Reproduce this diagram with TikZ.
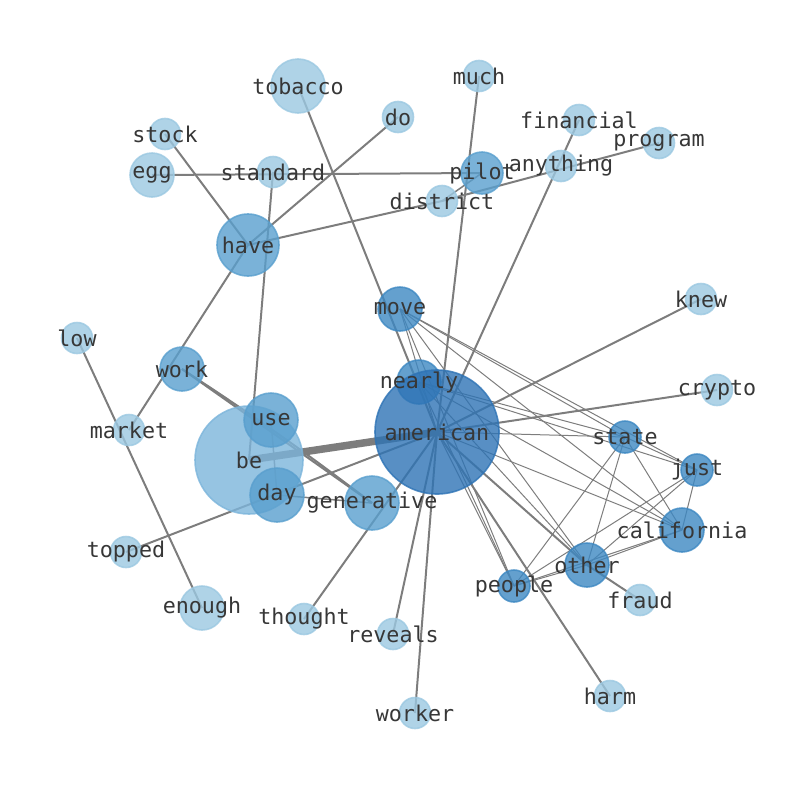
\documentclass[tikz,border=0pt]{standalone}
\usepackage{fontspec}
\newfontfamily\monofont{DejaVu Sans Mono}
\usetikzlibrary{backgrounds}
\definecolor{cl}{RGB}{155,200,225}
\definecolor{cb}{RGB}{124,181,219}
\definecolor{cm}{RGB}{89,159,206}
\definecolor{cd}{RGB}{61,136,194}
\definecolor{ca}{RGB}{46,115,181}
\definecolor{edgec}{RGB}{125,125,125}
\definecolor{labc}{RGB}{55,55,55}
\begin{document}
\begin{tikzpicture}[x=1pt,y=-1pt,
  v/.style 2 args={circle,inner sep=0pt,minimum size=#1pt,fill=#2,draw=#2,fill opacity=0.8,draw opacity=0.8,line width=1.6pt},
  lab/.style={font=\monofont\fontsize{21.7}{26}\selectfont,text=labc,inner sep=0pt},
  ed/.style={draw=edgec,line width=2pt},
  thin/.style={draw=edgec,line width=1pt},
  thick/.style={draw=edgec,line width=7.5pt}]
\useasboundingbox (0,0) rectangle (794,790);
% nodes
\node[v={54}{cl}] (tobacco) at (298,86) {};
\node[v={31}{cl}] (much) at (479,76) {};
\node[v={31}{cl}] (stock) at (165,134) {};
\node[v={31}{cl}] (do) at (398,117) {};
\node[v={31}{cl}] (financial) at (579,120) {};
\node[v={31}{cl}] (program) at (659,143) {};
\node[v={44}{cl}] (egg) at (152,175) {};
\node[v={31}{cl}] (standard) at (273,172) {};
\node[v={42}{cm}] (pilot) at (482,173) {};
\node[v={31}{cl}] (anything) at (561,166) {};
\node[v={31}{cl}] (district) at (442,201) {};
\node[v={62}{cm}] (have) at (248,245) {};
\node[v={31}{cl}] (knew) at (701,299) {};
\node[v={44}{cd}] (move) at (400,309) {};
\node[v={31}{cl}] (low) at (77,338) {};
\node[v={44}{cm}] (work) at (182,369) {};
\node[v={44}{cd}] (nearly) at (419,382) {};
\node[v={31}{cl}] (crypto) at (717,390) {};
\node[v={31}{cl}] (market) at (129,430) {};
\node[v={108}{cb}] (be) at (249,460) {};
\node[v={54}{cm}] (use) at (271,420) {};
\node[v={124}{ca}] (american) at (437,432) {};
\node[v={32}{cd}] (state) at (625,437) {};
\node[v={32}{cd}] (just) at (697,470) {};
\node[v={54}{cm}] (day) at (277,495) {};
\node[v={54}{cm}] (generative) at (372,503) {};
\node[v={44}{cd}] (california) at (682,530) {};
\node[v={44}{cd}] (other) at (587,565) {};
\node[v={31}{cl}] (topped) at (126,552) {};
\node[v={32}{cd}] (people) at (514,586) {};
\node[v={31}{cl}] (fraud) at (640,600) {};
\node[v={44}{cl}] (enough) at (202,608) {};
\node[v={31}{cl}] (thought) at (304,619) {};
\node[v={31}{cl}] (reveals) at (393,634) {};
\node[v={31}{cl}] (worker) at (415,713) {};
\node[v={31}{cl}] (harm) at (610,696) {};
% edges
\begin{pgfonlayer}{background}
\draw[ed] (tobacco.center) -- (american.center);
\draw[ed] (do.center) -- (have.center);
\draw[ed] (stock.center) -- (have.center);
\draw[ed] (egg.center) -- (pilot.center);
\draw[ed] (standard.center) -- (be.center);
\draw[ed] (have.center) -- (district.center);
\draw[ed] (have.center) -- (market.center);
\draw[ed] (much.center) -- (american.center);
\draw[ed] (financial.center) -- (american.center);
\draw[ed] (program.center) -- (district.center);
\draw[thin,line width=1.5pt] (pilot.center) -- (district.center);
\draw[ed] (knew.center) -- (american.center);
\draw[ed] (crypto.center) -- (american.center);
\draw[ed] (low.center) -- (enough.center);
\draw[ed] (work.center) -- (generative.center);
\draw[ed] (work.center) to[bend left=2] (generative.center);
\draw[thick] (be.center) -- (american.center);
\draw[ed] (topped.center) -- (american.center);
\draw[thin,line width=1.5pt] (use.center) -- (day.center);
\draw[thin,line width=1.5pt] (day.center) -- (generative.center);
\draw[ed] (american.center) -- (thought.center);
\draw[ed] (american.center) -- (reveals.center);
\draw[ed] (american.center) -- (worker.center);
\draw[ed] (american.center) -- (harm.center);
\draw[ed] (american.center) -- (other.center);
\draw[ed] (other.center) -- (fraud.center);
\draw[thin] (move.center) -- (american.center);
\draw[thin] (american.center) -- (people.center);
\draw[thin] (american.center) -- (state.center);
\draw[thin] (american.center) -- (california.center);
\foreach \a/\b in {move/state,move/just,move/california,move/other,move/people,
  nearly/state,nearly/just,nearly/california,nearly/other,nearly/people,
  state/just,state/california,state/other,state/people,
  just/california,just/other,just/people,
  california/other,california/people,other/people}
  \draw[thin] (\a.center) -- (\b.center);
\end{pgfonlayer}
% labels
\foreach \n in {tobacco,much,stock,do,financial,program,egg,standard,pilot,anything,district,have,knew,move,low,work,nearly,crypto,market,be,use,american,state,just,day,generative,california,other,topped,people,fraud,enough,thought,reveals,worker,harm}
  \node[lab] (\n-l) at (\n) {\n};
\end{tikzpicture}
\end{document}
